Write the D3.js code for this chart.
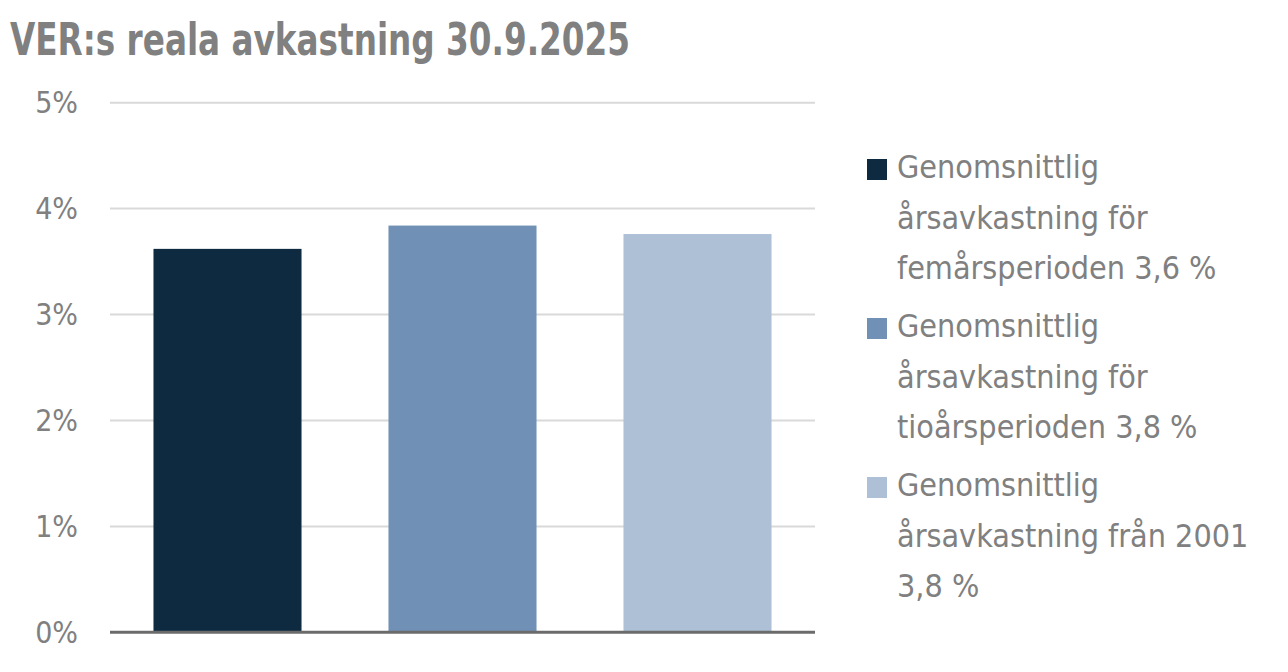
<!DOCTYPE html>
<html>
<head>
<meta charset="utf-8">
<script src="https://cdn.jsdelivr.net/npm/d3@7"></script>
<style>
  body { margin: 0; background: #fff; }
  text { font-family: "DejaVu Sans Condensed", "DejaVu Sans", sans-serif; fill: #808080; }
</style>
</head>
<body>
<div class="chart"></div>
<script>
// chart data
var categories = ["femårsperioden", "tioårsperioden", "från 2001"];
var values = [3.62, 3.84, 3.76];
var yTicks = [0, 1, 2, 3, 4, 5];
var colors = ["#0e2a41", "#7091b5", "#adc0d6"];
var legendLines = [
  ["Genomsnittlig", "årsavkastning för", "femårsperioden 3,6 %"],
  ["Genomsnittlig", "årsavkastning för", "tioårsperioden 3,8 %"],
  ["Genomsnittlig", "årsavkastning från 2001", "3,8 %"]
];
var title = "VER:s reala avkastning 30.9.2025";

var svgWidth = 1288;
var svgHeight = 672;

var svg = d3.select(".chart")
  .append("svg")
  .attr("width", svgWidth)
  .attr("height", svgHeight);

// scales
var xScale = d3.scaleBand()
  .domain(categories)
  .range([110, 815])
  .paddingInner(0.37)
  .paddingOuter(0.185);

var yScale = d3.scaleLinear()
  .domain([0, 5])
  .range([632.3, 102.7]);

// title
svg.append("text")
  .attr("x", 10)
  .attr("y", 55)
  .attr("font-size", 45)
  .attr("font-weight", "bold")
  .attr("textLength", 620)
  .attr("lengthAdjust", "spacingAndGlyphs")
  .text(title);

// gridlines
svg.append("g")
  .selectAll("line")
  .data(yTicks.filter(d => d > 0))
  .enter()
  .append("line")
  .attr("x1", 110)
  .attr("x2", 815)
  .attr("y1", d => yScale(d))
  .attr("y2", d => yScale(d))
  .attr("stroke", "#d9d9d9")
  .attr("stroke-width", 2);

// y axis labels via d3 axis
var leftAxis = d3.axisLeft(yScale)
  .tickValues(yTicks)
  .tickFormat(d => d + "%")
  .tickSize(0)
  .tickPadding(0);

var yAxisG = svg.append("g")
  .attr("transform", "translate(78, 0)")
  .call(leftAxis);
yAxisG.select(".domain").remove();
yAxisG.selectAll("text")
  .attr("font-size", 30)
  .attr("font-family", null)
  .attr("fill", "#808080")
  .attr("dy", "0.33em");

// bars
svg.append("g")
  .selectAll("rect")
  .data(values)
  .enter()
  .append("rect")
  .attr("x", (d, i) => xScale(categories[i]))
  .attr("width", xScale.bandwidth())
  .attr("y", d => yScale(d))
  .attr("height", d => yScale(0) - yScale(d))
  .attr("fill", (d, i) => colors[i]);

// baseline
svg.append("line")
  .attr("x1", 110)
  .attr("x2", 815)
  .attr("y1", yScale(0))
  .attr("y2", yScale(0))
  .attr("stroke", "#6b6b6b")
  .attr("stroke-width", 3);

// legend
var legend = svg.append("g").attr("transform", "translate(867, 178)");
var items = legend.selectAll("g")
  .data(legendLines)
  .enter()
  .append("g")
  .attr("transform", (d, i) => `translate(0, ${i * 159})`);

items.append("rect")
  .attr("x", 0)
  .attr("y", -19)
  .attr("width", 20)
  .attr("height", 21)
  .attr("fill", (d, i) => colors[i]);

items.each(function(lines) {
  d3.select(this).selectAll("text")
    .data(lines)
    .enter()
    .append("text")
    .attr("x", 30)
    .attr("y", (d, j) => j * 50.5)
    .attr("font-size", 32)
    .text(d => d);
});
</script>
</body>
</html>
